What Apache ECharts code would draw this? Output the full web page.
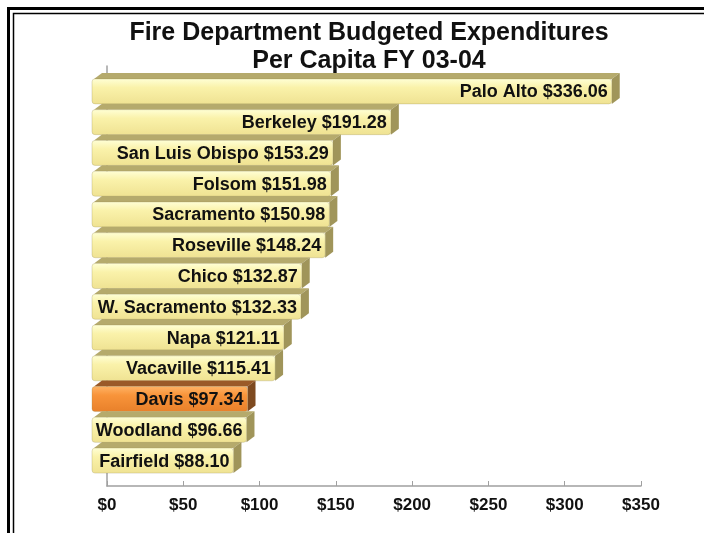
<!DOCTYPE html>
<html>
<head>
<meta charset="utf-8">
<script src="https://cdn.jsdelivr.net/npm/echarts@6/dist/echarts.min.js"></script>
<style>html,body{margin:0;padding:0;background:#fff}#c{width:704px;height:533px}</style>
</head>
<body>
<div id="c"></div>
<script>
const categories = ['Palo Alto','Berkeley','San Luis Obispo','Folsom','Sacramento','Roseville','Chico','W. Sacramento','Napa','Vacaville','Davis','Woodland','Fairfield'];
const values = [336.06,191.28,153.29,151.98,150.98,148.24,132.87,132.33,121.11,115.41,97.34,96.66,88.10];
const highlighted = 'Davis';
const xTicks = [0,50,100,150,200,250,300,350];

const FONT = '"Liberation Sans", Arial, sans-serif';
const chart = echarts.init(document.getElementById('c'));

function grad(c1, c2, c3) {
  return new echarts.graphic.LinearGradient(0, 0, 0, 1, [
    {offset: 0, color: c1}, {offset: 0.35, color: c2}, {offset: 1, color: c3}
  ]);
}

const option = {
  animation: false,
  backgroundColor: '#fff',
  title: {
    text: 'Fire Department Budgeted Expenditures\nPer Capita FY 03-04',
    left: 364, textAlign: 'center', top: 14,
    textStyle: {fontFamily: FONT, fontWeight: 'bold', fontSize: 25, lineHeight: 28, color: '#111'}
  },
  graphic: [
    {type: 'rect', shape: {x: 8.5, y: 8.5, width: 900, height: 700}, style: {fill: 'none', stroke: '#000', lineWidth: 3}, silent: true},
    {type: 'rect', shape: {x: 13.5, y: 13.5, width: 900, height: 700}, style: {fill: 'none', stroke: '#000', lineWidth: 1.5}, silent: true}
  ],
  grid: [
    {left: 107, right: 63, top: 70, bottom: 63},
    {left: 107, right: 63, top: 66, bottom: 47}
  ],
  xAxis: [
    {gridIndex: 0, type: 'value', min: 0, max: 350, interval: 50, show: false},
    {gridIndex: 1, type: 'value', min: xTicks[0], max: xTicks[xTicks.length-1], interval: 50,
     axisLine: {show: true, lineStyle: {color: '#A0A0A0', width: 1.5}},
     axisTick: {show: true, inside: true, length: 5, lineStyle: {color: '#A0A0A0'}},
     splitLine: {show: false},
     axisLabel: {margin: 11, fontFamily: FONT, fontWeight: 'bold', fontSize: 17, color: '#111',
       formatter: v => '$' + v}}
  ],
  yAxis: [
    {gridIndex: 0, type: 'category', data: categories, inverse: true, show: false},
    {gridIndex: 1, type: 'value', min: 0, max: 1, axisLine: {show: true, lineStyle: {color: '#A0A0A0', width: 1.5}},
     axisTick: {show: false}, axisLabel: {show: false}, splitLine: {show: false}}
  ],
  series: [{
    type: 'custom',
    xAxisIndex: 0, yAxisIndex: 0,
    data: values.map((v, i) => [v, i]),
    encode: {x: 0, y: 1},
    renderItem: function (params, api) {
      const v = api.value(0), i = api.value(1);
      const p0 = api.coord([0, i]);
      const p1 = api.coord([v, i]);
      const dx = 8, dy = 6, h = 25;
      const xl = p0[0] - 15, xr = p1[0] - dx;
      const yt = p0[1] + dy - h / 2, yb = yt + h;
      const isHi = categories[i] === highlighted;
      const front = isHi ? grad('#FFB466', '#F8943A', '#E8802A') : grad('#FFFFD6', '#FAF2AA', '#EFE292');
      const top = isHi ? '#9A5A28' : '#B5AA6C';
      const side = isHi ? '#7E4A20' : '#A0955A';
      return {
        type: 'group',
        children: [
          {type: 'polygon', shape: {points: [[xl + 2, yt], [xr, yt], [xr + dx, yt - dy], [xl + dx + 2, yt - dy]]}, style: {fill: top}},
          {type: 'polygon', shape: {points: [[xr, yt], [xr + dx, yt - dy], [xr + dx, yb - dy], [xr, yb]]}, style: {fill: side}},
          {type: 'rect', shape: {x: xl, y: yt, width: xr - xl, height: h, r: 3}, style: {fill: front, stroke: 'rgba(150,140,80,0.35)', lineWidth: 0.8}},
          {type: 'text', style: {text: categories[i] + ' $' + v.toFixed(2), x: xr - 4, y: yt + h / 2 + 1,
            align: 'right', verticalAlign: 'middle', font: 'bold 18px ' + FONT, fill: '#111'}}
        ]
      };
    }
  }]
};
chart.setOption(option);
</script>
</body>
</html>
